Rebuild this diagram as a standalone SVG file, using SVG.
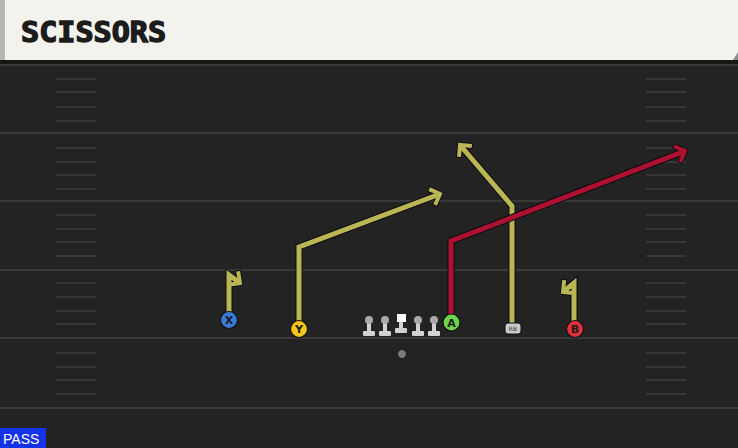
<svg xmlns="http://www.w3.org/2000/svg" width="738" height="448" viewBox="0 0 738 448">
<defs>
<style>
.yard{stroke:#393939;stroke-width:2}
.hash{stroke:#373737;stroke-width:2}
.out{fill:none;stroke:#0d0d12;stroke-width:7;stroke-linejoin:miter;stroke-linecap:butt}
.ry{fill:none;stroke:#b9b653;stroke-width:5;stroke-linejoin:miter;stroke-linecap:butt}
.rr{fill:none;stroke:#ad1030;stroke-width:5;stroke-linejoin:miter;stroke-linecap:butt}
.lbl{font-family:"DejaVu Sans",sans-serif;font-weight:bold;font-size:11px;fill:#1b1b1b;text-anchor:middle}
.pc{stroke:#111;stroke-width:1.2}
.lm-head{fill:#a9a9a9}
.lm-body{fill:#d2d2d2}
</style>
<marker id="aO" markerUnits="userSpaceOnUse" markerWidth="26" markerHeight="26" viewBox="-16 -13 26 26" refX="0" refY="0" orient="auto">
<path d="M-7,-7 L0,0 L-7,7" fill="none" stroke="#0d0d12" stroke-width="6" stroke-linecap="square"/>
</marker>
<marker id="aY" markerUnits="userSpaceOnUse" markerWidth="26" markerHeight="26" viewBox="-16 -13 26 26" refX="0" refY="0" orient="auto">
<path d="M-7,-7 L0,0 L-7,7" fill="none" stroke="#b9b653" stroke-width="4" stroke-linecap="square"/>
</marker>
<marker id="aR" markerUnits="userSpaceOnUse" markerWidth="26" markerHeight="26" viewBox="-16 -13 26 26" refX="0" refY="0" orient="auto">
<path d="M-7,-7 L0,0 L-7,7" fill="none" stroke="#ad1030" stroke-width="4" stroke-linecap="square"/>
</marker>
<g id="lineman">
<rect x="-2" y="-11" width="4" height="12" class="lm-body"/>
<circle cx="0" cy="-11" r="4" class="lm-head"/>
<rect x="-6" y="0" width="12" height="5" rx="1" class="lm-body"/>
</g>
</defs>

<!-- field -->
<rect x="0" y="0" width="738" height="448" fill="#232323"/>
<rect x="0" y="60" width="738" height="4" fill="#161616"/>
<g id="field-lines">
<line class="yard" x1="0" y1="65" x2="738" y2="65"/>
<line class="yard" x1="0" y1="133" x2="738" y2="133"/>
<line class="yard" x1="0" y1="201" x2="738" y2="201"/>
<line class="yard" x1="0" y1="270" x2="738" y2="270"/>
<line class="yard" x1="0" y1="338" x2="738" y2="338"/>
<line class="yard" x1="0" y1="408" x2="738" y2="408"/>
</g>
<g id="hashes">
<path class="hash" d="M56,79H96M56,92H96M56,107H96M56,121H96M56,148H96M56,162H96M56,175H96M56,189H96M56,215H96M56,229H96M56,242H96M56,256H96M56,283H96M56,297H96M56,311H96M56,324H96M56,353H96M56,367H96M56,380H96M56,394H96"/>
<path class="hash" d="M646,79H686M646,92H686M646,107H686M646,121H686M646,148H686M646,162H686M646,175H686M646,189H686M646,215H686M646,229H686M646,242H686M646,256H686M646,283H686M646,297H686M646,311H686M646,324H686M646,353H686M646,367H686M646,380H686M646,394H686"/>
</g>

<!-- header -->
<g id="header">
<rect x="0" y="0" width="738" height="60" fill="#f4f2ec"/>
<rect x="0" y="0" width="5" height="60" fill="#b5b8b7"/>
<polygon points="733,60 738,52 738,60" fill="#8a8d90"/>
<text x="21" y="42" font-family="'DejaVu Sans Mono',monospace" font-weight="bold" font-size="28" fill="#1c1c1c" stroke="#1c1c1c" stroke-width="1.4" stroke-linejoin="miter" textLength="145" lengthAdjust="spacingAndGlyphs">SCISSORS</text>
</g>

<!-- routes -->
<g id="connectors">
<path class="out" d="M229,312 V275 L240,283" marker-end="url(#aO)"/>
<path class="ry" d="M229,312 V275 L240,283" marker-end="url(#aY)"/>
<path class="out" d="M299,321 V247 L440,194" marker-end="url(#aO)"/>
<path class="ry" d="M299,321 V247 L440,194" marker-end="url(#aY)"/>
<path class="out" d="M512,323 V206 L460,145" marker-end="url(#aO)"/>
<path class="ry" d="M512,323 V206 L460,145" marker-end="url(#aY)"/>
<path class="out" d="M574,321 V283 L563,292" marker-end="url(#aO)"/>
<path class="ry" d="M574,321 V283 L563,292" marker-end="url(#aY)"/>
<path class="out" d="M451,314 V241 L685,151" marker-end="url(#aO)"/>
<path class="rr" d="M451,314 V241 L685,151" marker-end="url(#aR)"/>
</g>

<!-- offensive line -->
<g id="oline">
<use href="#lineman" x="369" y="331"/>
<use href="#lineman" x="385" y="331"/>
<g id="center">
<rect x="399" y="318" width="4" height="11" class="lm-body"/>
<rect x="397" y="314" width="9" height="8" fill="#ffffff"/>
<rect x="395" y="328" width="12" height="5" rx="1" class="lm-body"/>
</g>
<use href="#lineman" x="418" y="331"/>
<use href="#lineman" x="434" y="331"/>
</g>

<g id="qb">
<circle cx="402" cy="354" r="4.5" fill="#7a7a7a" stroke="#1a1a1a" stroke-width="1"/>
</g>

<g id="player-x">
<circle cx="229" cy="320" r="8.5" fill="#3b7bd8" class="pc"/>
<text x="229" y="324" class="lbl">X</text>
</g>
<g id="player-y">
<circle cx="299" cy="329" r="8.5" fill="#f4c51a" class="pc"/>
<text x="299" y="333" class="lbl">Y</text>
</g>
<g id="player-a">
<circle cx="451.5" cy="322.5" r="8.5" fill="#6dd34a" class="pc"/>
<text x="451.5" y="326.5" class="lbl">A</text>
</g>
<g id="player-rb">
<rect x="505" y="323" width="16" height="11" rx="3" fill="#c9c9c9" stroke="#111" stroke-width="1"/>
<text x="513" y="331" font-family="'DejaVu Sans',sans-serif" font-size="6" fill="#333" text-anchor="middle">RB</text>
</g>
<g id="player-b">
<circle cx="575" cy="329" r="8.5" fill="#e0303e" class="pc"/>
<text x="575" y="333" class="lbl">B</text>
</g>

<g id="pass-tag">
<rect x="0" y="428" width="46" height="20" fill="#1432e6"/>
<text x="3" y="444" font-family="'Liberation Sans',Arial,sans-serif" font-size="14" fill="#ffffff">PASS</text>
</g>
</svg>
